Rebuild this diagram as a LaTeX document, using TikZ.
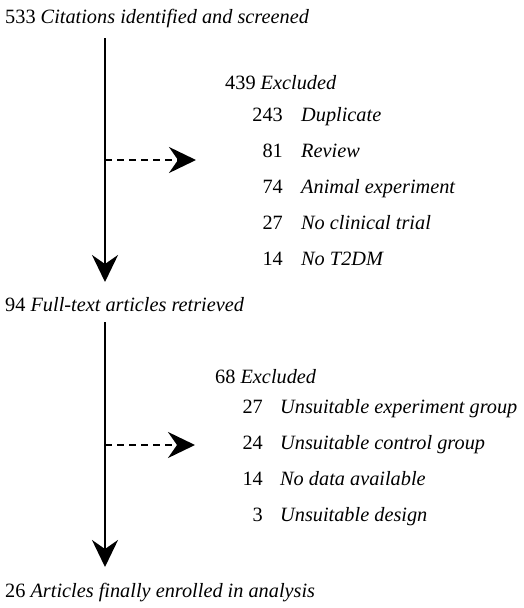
\documentclass[tikz,border=0pt]{standalone}
\usepackage{fontspec}
\setmainfont{Liberation Serif}
\usetikzlibrary{arrows.meta}
\tikzset{
  flowline/.style={line width=2pt, -{Stealth[length=27pt, width=26pt, inset=9pt]}},
  excline/.style={flowline, dash pattern=on 7pt off 5pt},
  stagetext/.style={anchor=mid west, inner sep=0pt, font=\fontsize{20.3}{24}\selectfont},
  numtext/.style={anchor=mid east, inner sep=0pt, font=\fontsize{20.3}{24}\selectfont},
  reasontext/.style={anchor=mid west, inner sep=0pt, font=\fontsize{20.3}{24}\selectfont\itshape}
}
\begin{document}
\begin{tikzpicture}[x=1pt, y=-1pt]
			%%%%% START %%%%%
			\useasboundingbox (0, 0) rectangle (523, 608);
			
			% stages
			\node[stagetext] (cited) at (5, 21.5) {533 \textit{Citations identified and screened}};
			\node[stagetext] (full) at (5, 309.5) {94 \textit{Full-text articles retrieved}};
			\node[stagetext] (final) at (5, 595.5) {26 \textit{Articles finally enrolled in analysis}};
			
			\coordinate (top1) at (105, 38);
			\coordinate (bot1) at (105, 282);
			\coordinate (top2) at (105, 322);
			\coordinate (bot2) at (105, 567);
			
			\draw[flowline] (top1) -- (bot1);
			\draw[flowline] (top2) -- (bot2);
			
			% first exclusion
			\node[stagetext] (exclA) at (225, 87.5) {439 \textit{Excluded}};
			\node[numtext] (nA1) at (283, 119) {243};
			\node[reasontext] (rA1) at (301, 119) {Duplicate};
			\node[numtext] (nA2) at (283, 155) {81};
			\node[reasontext] (rA2) at (301, 155) {Review};
			\node[numtext] (nA3) at (283, 191) {74};
			\node[reasontext] (rA3) at (301, 191) {Animal experiment};
			\node[numtext] (nA4) at (283, 227) {27};
			\node[reasontext] (rA4) at (301, 227) {No clinical trial};
			\node[numtext] (nA5) at (283, 263) {14};
			\node[reasontext] (rA5) at (301, 263) {No T2DM};
			
			\coordinate (forkA) at (105, 160);
			\coordinate (tipA) at (196, 160);
			\draw[excline] (forkA) -- (tipA);
			
			% second exclusion
			\node[stagetext] (exclB) at (215, 381.5) {68 \textit{Excluded}};
			\node[numtext] (nB1) at (263, 411) {27};
			\node[reasontext] (rB1) at (280, 411) {Unsuitable experiment group};
			\node[numtext] (nB2) at (263, 447) {24};
			\node[reasontext] (rB2) at (280, 447) {Unsuitable control group};
			\node[numtext] (nB3) at (263, 483) {14};
			\node[reasontext] (rB3) at (280, 483) {No data available};
			\node[numtext] (nB4) at (263, 519) {3};
			\node[reasontext] (rB4) at (280, 519) {Unsuitable design};
			
			\coordinate (forkB) at (105, 445);
			\coordinate (tipB) at (195, 445);
			\draw[excline] (forkB) -- (tipB);
			
			%%%%% END %%%%%
\end{tikzpicture}
\end{document}
